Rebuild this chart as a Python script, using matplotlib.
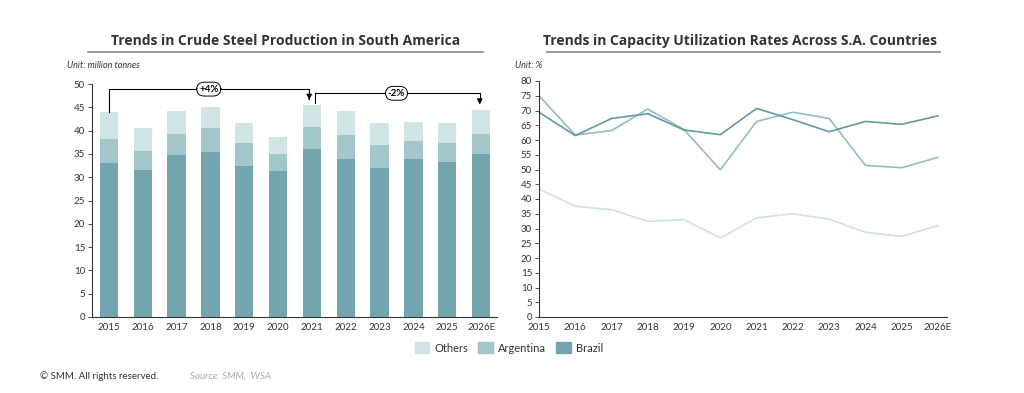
#crude steel production and capacity utilization, South America
import matplotlib
matplotlib.use("Agg")
import matplotlib.pyplot as plt
from matplotlib.patches import Patch
import numpy as np

years = ['2015','2016','2017','2018','2019','2020','2021','2022','2023','2024','2025','2026E']

# production, million tonnes
brazil_prod = [33.1, 31.6, 34.7, 35.4, 32.4, 31.4, 36.1, 34.0, 32.0, 33.9, 33.3, 34.9]
argentina_prod = [5.2, 4.1, 4.6, 5.1, 4.9, 3.6, 4.7, 5.1, 4.9, 3.9, 4.0, 4.4]
others_prod = [5.6, 4.8, 4.8, 4.5, 4.3, 3.6, 4.7, 5.0, 4.7, 4.1, 4.3, 5.1]

# capacity utilization, %
brazil_util = [69.4, 61.5, 67.3, 68.9, 63.4, 61.8, 70.7, 66.9, 62.8, 66.3, 65.3, 68.2]
argentina_util = [75.0, 61.7, 63.2, 70.5, 63.5, 49.9, 66.3, 69.4, 67.3, 51.4, 50.6, 54.1]
others_util = [43.4, 37.5, 36.4, 32.4, 33.0, 26.8, 33.6, 35.0, 33.2, 28.7, 27.3, 31.0]

c_brazil = '#72a5ae'
c_arg = '#a3c6cb'
c_oth = '#d0e3e5'
l_brazil = '#609ba3'
l_arg = '#91bec2'
l_oth = '#cfe1e1'

plt.rcParams['font.family'] = ['Lato', 'DejaVu Sans']

fig = plt.figure(figsize=(10.24, 3.93), dpi=100)
W, H = 1024., 393.

def ax_px(x0, x1, y0, y1):
    return fig.add_axes([x0/W, 1-y1/H, (x1-x0)/W, (y1-y0)/H])

# left: stacked bars
ax1 = ax_px(92, 497, 84, 317)
x = np.arange(len(years))
bw = 0.54
ax1.bar(x, brazil_prod, bw, color=c_brazil)
ax1.bar(x, argentina_prod, bw, bottom=brazil_prod, color=c_arg)
bot2 = np.array(brazil_prod) + np.array(argentina_prod)
ax1.bar(x, others_prod, bw, bottom=bot2, color=c_oth)
ax1.set_xlim(-0.5, 11.47)
ax1.set_ylim(0, 50)
ax1.set_yticks(range(0, 51, 5))
ax1.set_xticks(x)
ax1.set_xticklabels(years)
tot = bot2 + np.array(others_prod)

# growth brackets
ax1.plot([0, 0, 5.92, 5.92], [tot[0], 48.9, 48.9, 47.2], color='black', lw=0.8)
ax1.annotate('', xy=(5.92, 46.0), xytext=(5.92, 47.4),
             arrowprops=dict(arrowstyle='-|>', color='black', lw=0.8, mutation_scale=8))
ax1.text(2.95, 48.9, '+4%', ha='center', va='center', fontsize=7, fontweight='bold',
         bbox=dict(boxstyle='round,pad=0.25,rounding_size=0.8', fc='white', ec='black', lw=0.7))
ax1.plot([6.08, 6.08, 10.96, 10.96], [46.0, 48.0, 48.0, 46.6], color='black', lw=0.8)
ax1.annotate('', xy=(10.96, 45.0), xytext=(10.96, 46.8),
             arrowprops=dict(arrowstyle='-|>', color='black', lw=0.8, mutation_scale=8))
ax1.text(8.5, 48.0, '-2%', ha='center', va='center', fontsize=7, fontweight='bold',
         bbox=dict(boxstyle='round,pad=0.25,rounding_size=0.8', fc='white', ec='black', lw=0.7))

# right: lines
ax2 = ax_px(539, 947, 81, 317)
ax2.plot(x, others_util, color=l_oth, lw=1.2)
ax2.plot(x, argentina_util, color=l_arg, lw=1.2)
ax2.plot(x, brazil_util, color=l_brazil, lw=1.2)
ax2.set_xlim(0, 11.25)
ax2.set_ylim(0, 80)
ax2.set_yticks(range(0, 81, 5))
ax2.set_xticks(x)
ax2.set_xticklabels(years)

for ax in (ax1, ax2):
    for s in ('top', 'right'):
        ax.spines[s].set_visible(False)
    ax.spines['left'].set_color('#333333')
    ax.spines['bottom'].set_color('#333333')
    ax.spines['left'].set_linewidth(0.8)
    ax.spines['bottom'].set_linewidth(0.8)
    ax.tick_params(axis='y', length=3, width=0.6, labelsize=7, colors='#333333', pad=2)
    ax.tick_params(axis='x', length=0, labelsize=7, colors='#333333', pad=4)

# titles with underline
fig.text(286/W, 1-41/H, 'Trends in Crude Steel Production in South America',
         ha='center', va='center', fontsize=10, fontweight='bold', color='#333333',
         family='Open Sans')
fig.add_artist(plt.Line2D([88/W, 483/W], [1-52/H, 1-52/H], color='#888888', lw=1.2))
fig.text(740/W, 1-41/H, 'Trends in Capacity Utilization Rates Across S.A. Countries',
         ha='center', va='center', fontsize=10, fontweight='bold', color='#333333',
         family='Open Sans')
fig.add_artist(plt.Line2D([547/W, 940/W], [1-52/H, 1-52/H], color='#888888', lw=1.2))

fig.text(67/W, 1-65/H, 'Unit: million tonnes', fontsize=6.5, style='italic',
         color='#333333', va='center')
fig.text(515/W, 1-65/H, 'Unit: %', fontsize=6.5, style='italic', color='#333333', va='center')

handles = [Patch(color=c_oth), Patch(color=c_arg), Patch(color=c_brazil)]
fig.legend(handles, ['Others', 'Argentina', 'Brazil'], loc='center',
           bbox_to_anchor=(509/W, 1-348/H), ncol=3, frameon=False, fontsize=8,
           handlelength=1.3, handleheight=1.1, handletextpad=0.5, columnspacing=0.9,
           labelcolor='#333333')

fig.text(40/W, 1-376/H, '\u00a9 SMM. All rights reserved.', fontsize=7, color='#333333', va='center')
fig.text(190/W, 1-376/H, 'Source: SMM,  WSA', fontsize=7, style='italic', color='#aaaaaa',
         va='center')

fig.savefig('out.png', dpi=100)
